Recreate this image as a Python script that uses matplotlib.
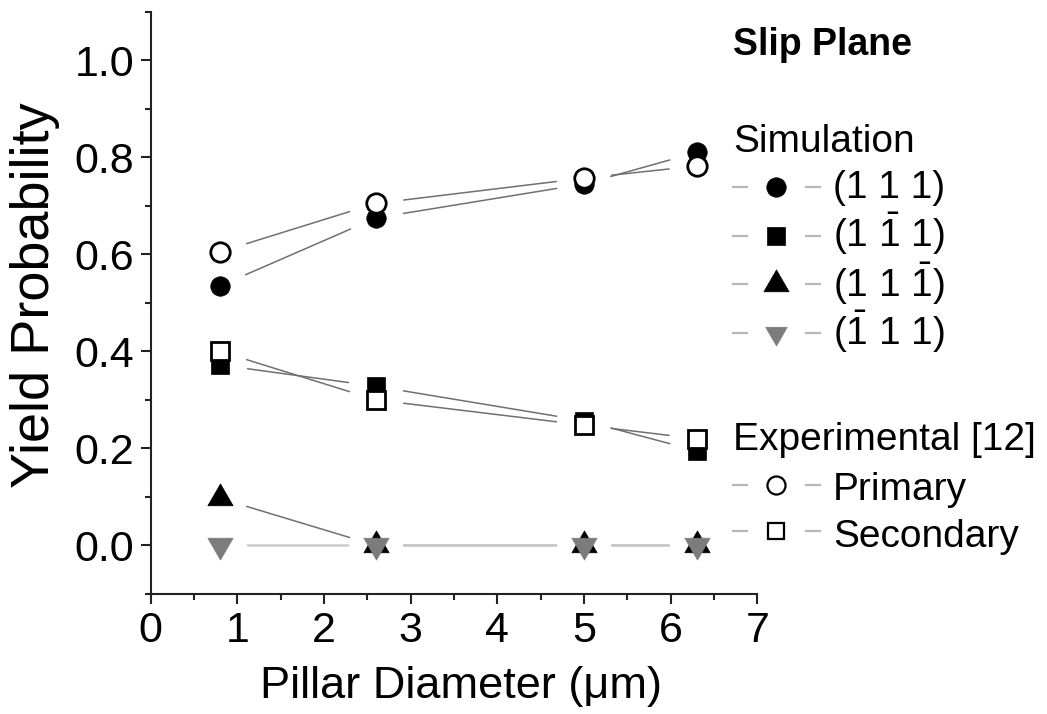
import matplotlib
matplotlib.use("Agg")
import matplotlib.pyplot as plt
from matplotlib.lines import Line2D
from matplotlib.path import Path

plt.rcParams['font.family'] = ['Liberation Sans', 'DejaVu Sans']
plt.rcParams['mathtext.fontset'] = 'custom'
plt.rcParams['mathtext.rm'] = 'Liberation Sans'

# ---- data ----
diameters = [0.8, 2.6, 5.0, 6.3]
sim_111 = [0.535, 0.675, 0.745, 0.810]
sim_1b11 = [0.372, 0.328, 0.257, 0.195]
sim_111b = [0.097, 0.0, 0.0, 0.0]
sim_b111 = [0.0, 0.0, 0.0, 0.0]
exp_primary = [0.605, 0.705, 0.757, 0.782]
exp_secondary = [0.400, 0.300, 0.248, 0.220]

x_ticks = [0, 1, 2, 3, 4, 5, 6, 7]
y_ticks = [0.0, 0.2, 0.4, 0.6, 0.8, 1.0]

W, H = 1047, 714
fig = plt.figure(figsize=(W / 100, H / 100), dpi=100)
AX_L, AX_R, AX_T, AX_B = 150.7, 757.4, 11.7, 594.0
ax = fig.add_axes([AX_L / W, 1 - AX_B / H, (AX_R - AX_L) / W, (AX_B - AX_T) / H])

DARK = '#707070'
LIGHT = '#c6c6c6'
GREY = '#7c7c7c'

# Origin-style triangles centred on their centroid (so up+down form a star)
TRI_UP = Path([(0, 1), (-0.866, -0.5), (0.866, -0.5), (0, 1)],
              [Path.MOVETO, Path.LINETO, Path.LINETO, Path.CLOSEPOLY])
TRI_DN = Path([(0, -1), (-0.866, 0.5), (0.866, 0.5), (0, -1)],
              [Path.MOVETO, Path.LINETO, Path.LINETO, Path.CLOSEPOLY])


def gapped_line(xs, ys, color, lw, z):
    for i in range(len(xs) - 1):
        ax.annotate('', xy=(xs[i + 1], ys[i + 1]), xytext=(xs[i], ys[i]),
                    arrowprops=dict(arrowstyle='-', shrinkA=20, shrinkB=20,
                                    color=color, lw=lw),
                    zorder=z, annotation_clip=False)


series = [
    # values, marker, ms, face, edge, line color, line width, marker z
    (sim_111, 'o', 14, 'black', 'black', DARK, 1.1, 3),
    (sim_1b11, 's', 13, 'black', 'black', DARK, 1.1, 3),
    (sim_111b, TRI_UP, 21, 'black', 'black', DARK, 1.1, 3),
    (sim_b111, TRI_DN, 21, GREY, GREY, LIGHT, 1.6, 3.5),
    (exp_primary, 'o', 14, 'white', 'black', DARK, 1.1, 4),
    (exp_secondary, 's', 13, 'white', 'black', DARK, 1.1, 4),
]
for k, (vals, mk, ms, fc, ec, lc, lw, z) in enumerate(series):
    gapped_line(diameters, vals, lc, lw, 1 + 0.1 * k)
    ax.plot(diameters, vals, linestyle='none', marker=mk, ms=ms,
            mfc=fc, mec=ec, mew=2.0 if fc == 'white' else 0.5, zorder=z,
            clip_on=False)

ax.set_xlim(0, 7)
ax.set_ylim(-0.1, 1.1)
ax.set_xticks(x_ticks)
ax.set_xticklabels([str(v) for v in x_ticks])
ax.set_yticks(y_ticks)
ax.set_yticklabels([f'{v:.1f}' for v in y_ticks])
ax.set_xticks([v + 0.5 for v in x_ticks[:-1]], minor=True)
ax.set_yticks([-0.1, 0.1, 0.3, 0.5, 0.7, 0.9, 1.1], minor=True)
for s in ['top', 'right']:
    ax.spines[s].set_visible(False)
for s in ['left', 'bottom']:
    ax.spines[s].set_linewidth(1.5)
    ax.spines[s].set_color('#222222')
ax.tick_params(which='major', direction='out', length=7, width=1.5,
               labelsize=31, pad=5, color='#222222')
ax.tick_params(which='minor', direction='out', length=4, width=1.5,
               color='#222222')

ax.set_xlabel('Pillar Diameter (μm)', fontsize=32.5)
ax.xaxis.label.set_verticalalignment('baseline')
ax.xaxis.set_label_coords((461 - AX_L) / (AX_R - AX_L),
                          (AX_B - 698) / (AX_B - AX_T))
ax.set_ylabel('Yield Probability', fontsize=39)
ax.yaxis.label.set_verticalalignment('center')
ax.yaxis.set_label_coords((35 - AX_L) / (AX_R - AX_L),
                          (AX_B - 295) / (AX_B - AX_T))


# ---- custom legend (figure pixel positions) ----
def fx(px):
    return px / W


def fy(py):
    return 1 - py / H


LFS = 28
fig.text(fx(733), fy(55), 'Slip Plane', fontsize=27, fontweight='bold',
         ha='left', va='baseline')
fig.text(fx(733), fy(152), 'Simulation', fontsize=LFS, ha='left',
         va='baseline')
fig.text(fx(733), fy(450), 'Experimental [12]', fontsize=LFS, ha='left',
         va='baseline')

bar = r'$\mathregular{\bar{1}}$'
legend_rows = [
    # marker centre y, baseline y, label, marker, ms, face, edge, mew
    (187, 198, '(1 1 1)', 'o', 14, 'black', 'black', 0.5),
    (236, 247, '(1 ' + bar + ' 1)', 's', 13, 'black', 'black', 0.5),
    (284, 297, '(1 1 ' + bar + ')', TRI_UP, 21, 'black', 'black', 0.5),
    (333, 345, '(' + bar + ' 1 1)', TRI_DN, 18, GREY, GREY, 0.5),
    (485, 500, 'Primary', 'o', 13, 'white', 'black', 1.6),
    (531, 547, 'Secondary', 's', 12, 'white', 'black', 1.6),
]
for py, pb, label, mk, ms, fc, ec, mew in legend_rows:
    for x0, x1 in [(733, 747), (806, 820)]:
        fig.add_artist(Line2D([fx(x0), fx(x1)], [fy(py), fy(py)],
                              color='#b8b8b8', lw=1.6,
                              transform=fig.transFigure))
    fig.add_artist(Line2D([fx(776)], [fy(py)], marker=mk, ms=ms, mfc=fc,
                          mec=ec, mew=mew, linestyle='none',
                          transform=fig.transFigure))
    fig.text(fx(833), fy(pb), label, fontsize=LFS, ha='left', va='baseline')

fig.savefig('out.png', dpi=100)
